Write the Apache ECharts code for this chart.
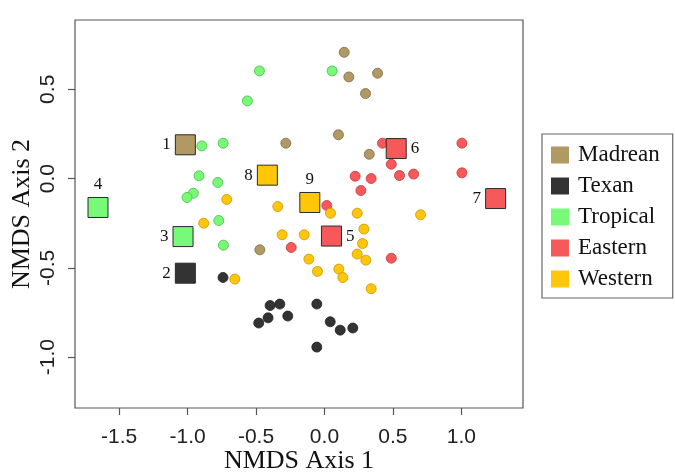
<!DOCTYPE html>
<html>
<head>
<meta charset="utf-8">
<script src="https://cdn.jsdelivr.net/npm/echarts@6/dist/echarts.min.js"></script>
<style>html,body{margin:0;padding:0;background:#fff}#c{width:675px;height:475px}</style>
</head>
<body>
<div id="c"></div>
<script>
// ---- data ----
const groups = ["Madrean", "Texan", "Tropical", "Eastern", "Western"];
const madreanX = [0.144, 0.178, 0.388, 0.300, 0.102, -0.282, 0.327, -0.472];
const madreanY = [0.707, 0.569, 0.590, 0.476, 0.245, 0.198, 0.136, -0.399];
const texanX = [-0.741, -0.397, -0.326, -0.412, -0.480, -0.268, -0.056, 0.042, 0.115, 0.207, -0.056];
const texanY = [-0.554, -0.711, -0.703, -0.780, -0.809, -0.770, -0.703, -0.802, -0.849, -0.837, -0.944];
const tropicalX = [-0.475, -0.563, 0.056, -0.896, -0.740, -0.916, -0.779, -0.958, -1.004, -0.772, -0.738];
const tropicalY = [0.603, 0.435, 0.603, 0.183, 0.198, 0.015, -0.022, -0.082, -0.106, -0.235, -0.373];
const easternX = [0.424, 1.004, 0.488, 0.224, 0.341, 0.548, 0.651, 1.004, 0.266, 0.017, -0.243, 0.488];
const easternY = [0.198, 0.198, 0.080, 0.013, 0.000, 0.017, 0.025, 0.032, -0.067, -0.151, -0.386, -0.446];
const westernX = [-0.714, -0.341, 0.044, 0.239, 0.702, -0.882, -0.309, -0.148, -0.114, -0.655, 0.288, 0.278, 0.239, 0.302, -0.051, 0.105, 0.134, 0.341];
const westernY = [-0.117, -0.157, -0.194, -0.194, -0.203, -0.250, -0.315, -0.315, -0.451, -0.563, -0.283, -0.364, -0.423, -0.457, -0.520, -0.507, -0.554, -0.617];
// group centroids (squares)
const centroidLabel = ["1", "2", "3", "4", "5", "6", "7", "8", "9"];
const centroidGroup = ["Madrean", "Texan", "Tropical", "Tropical", "Eastern", "Eastern", "Eastern", "Western", "Western"];
const centroidX = [-1.016, -1.016, -1.033, -1.654, 0.051, 0.524, 1.250, -0.417, -0.107];
const centroidY = [0.189, -0.530, -0.325, -0.162, -0.322, 0.168, -0.112, 0.019, -0.134];
const centroidLabelPos = ["left", "left", "left", "top", "right", "right", "left", "left", "top"];
const xTicks = [-1.5, -1.0, -0.5, 0.0, 0.5, 1.0];
const yTicks = [-1.0, -0.5, 0.0, 0.5];

// ---- styles ----
const fillColors = {Madrean: "#B19963", Texan: "#333333", Tropical: "#77FA77", Eastern: "#F7595B", Western: "#FFC60A"};
const edgeColors = {Madrean: "#7E6B43", Texan: "#222222", Tropical: "#4DB84D", Eastern: "#C23A3C", Western: "#C99500"};
const xs = [madreanX, texanX, tropicalX, easternX, westernX];
const ys = [madreanY, texanY, tropicalY, easternY, westernY];

const series = groups.map((g, gi) => ({
  name: g,
  type: "scatter",
  symbol: "circle",
  symbolSize: 10,
  data: xs[gi].map((x, i) => [x, ys[gi][i]]),
  itemStyle: {color: fillColors[g], borderColor: edgeColors[g], borderWidth: 0.8, opacity: 1},
  emphasis: {disabled: true},
  z: 2
}));
series.push({
  name: "centroids",
  type: "scatter",
  symbol: "rect",
  symbolSize: 20,
  z: 3,
  emphasis: {disabled: true},
  itemStyle: {opacity: 1},
  data: centroidX.map((x, i) => ({
    value: [x, centroidY[i]],
    itemStyle: {color: fillColors[centroidGroup[i]], borderColor: "#2a2a2a", borderWidth: 1, opacity: 1},
    label: {show: true, formatter: centroidLabel[i], position: centroidLabelPos[i], distance: 4,
      fontFamily: "Liberation Serif", fontSize: 17, color: "#111"}
  }))
});

const chart = echarts.init(document.getElementById("c"), null, {renderer: "canvas"});
chart.setOption({
  animation: false,
  backgroundColor: "#fff",
  grid: {left: 75, right: 152, top: 20, bottom: 67, show: true, borderColor: "#555", borderWidth: 1.2,
    backgroundColor: "transparent", outerBoundsMode: "none", containLabel: false},
  legend: {
    data: groups,
    orient: "vertical",
    left: 542, top: 134,
    padding: [9, 13, 7, 9],
    itemWidth: 18, itemHeight: 17, itemGap: 7,
    icon: "rect",
    itemStyle: {borderWidth: 0},
    borderColor: "#666", borderWidth: 1.2,
    textStyle: {fontFamily: "Liberation Serif", fontSize: 23, color: "#111", lineHeight: 24, padding: [0, 0, 0, 4]},
    selectedMode: false
  },
  xAxis: {
    type: "value", min: -1.822, max: 1.45,
    name: "NMDS Axis 1", nameLocation: "middle", nameGap: 40, nameMoveOverlap: false,
    nameTextStyle: {fontFamily: "Liberation Serif", fontSize: 26, color: "#111"},
    axisLine: {show: false, onZero: false},
    splitLine: {show: false},
    axisTick: {show: true, inside: false, length: 7, customValues: xTicks, lineStyle: {color: "#555", width: 1.2}},
    axisLabel: {customValues: xTicks, margin: 19, fontFamily: "Liberation Sans", fontSize: 21, color: "#222",
      formatter: v => v.toFixed(1)}
  },
  yAxis: {
    type: "value", min: -1.285, max: 0.888,
    name: "NMDS Axis 2", nameLocation: "middle", nameGap: 40, nameRotate: 90, nameMoveOverlap: false,
    nameTextStyle: {fontFamily: "Liberation Serif", fontSize: 26, color: "#111"},
    axisLine: {show: false, onZero: false},
    splitLine: {show: false},
    axisTick: {show: true, inside: false, length: 7, customValues: yTicks, lineStyle: {color: "#555", width: 1.2}},
    axisLabel: {customValues: yTicks, margin: 16, rotate: 90, fontFamily: "Liberation Sans", fontSize: 21, color: "#222",
      formatter: v => v.toFixed(1)}
  },
  series: series
});
</script>
</body>
</html>
